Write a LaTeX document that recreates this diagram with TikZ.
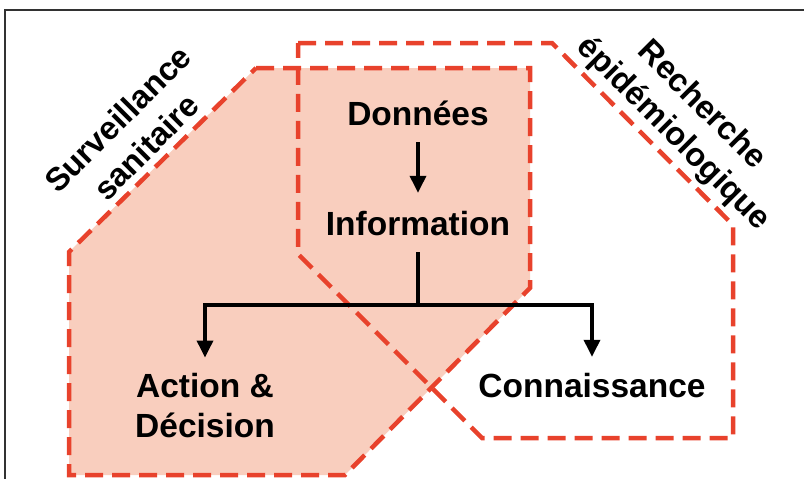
\documentclass[tikz,border=0pt]{standalone}
\usepackage{fontspec}
\setmainfont{Liberation Sans}
\usetikzlibrary{arrows.meta}
\definecolor{zonefill}{RGB}{249,206,190}
\definecolor{zonered}{RGB}{232,66,44}
\definecolor{framegray}{RGB}{50,50,50}
\tikzset{
  zone/.style={draw=zonered, line width=4.5pt, dash pattern=on 18pt off 9pt, line join=miter},
  lbl/.style={font=\fontsize{33.5}{40}\selectfont\bfseries, inner sep=0pt, text height=25pt, text depth=7pt, anchor=base},
  mlbl/.style={font=\fontsize{33.5}{40}\selectfont\bfseries, inner sep=0pt, align=center, anchor=base},
  rlbl/.style={font=\fontsize{32.5}{40}\selectfont\bfseries, inner sep=0pt, align=center},
  link/.style={line width=3.5pt},
  arr/.style={line width=3.5pt, -{Triangle[width=16pt,length=17pt]}}
}
\begin{document}
\begin{tikzpicture}[x=1pt,y=-1pt]
\useasboundingbox (0,0) rectangle (804,479);
% frame
\draw[framegray, line width=1.5pt] (5,479) -- (5,10) -- (804,10);
% surveillance zone fill
\fill[zonefill] (256,68) -- (530,68) -- (530,288) -- (345,475) -- (69,475) -- (69,252) -- cycle;
% recherche zone outline
\draw[zone] (298,43) -- (552,43) -- (733,225) -- (733,438) -- (482,438) -- (298,254) -- cycle;
% surveillance zone outline
\draw[zone] (256,68) -- (530,68) -- (530,288) -- (345,475) -- (69,475) -- (69,252) -- cycle;
% labels
\node[lbl] (don) at (418,125) {Données};
\node[lbl] (inf) at (418,235) {Information};
\node[mlbl] (act) at (205,437) {Action \&\\Décision};
\node[lbl] (con) at (592,397) {Connaissance};
\node[rlbl, rotate=45] (surv) at (132,133) {Surveillance\\sanitaire};
\node[rlbl, rotate=-45] (rech) at (687,120) {Recherche\\épidémiologique};
% connectors
\coordinate (split) at (418,305);
\draw[arr, shorten <=10pt, shorten >=17pt] (don.south) -- (inf.north);
\draw[link, shorten <=10pt] (inf.south) -- (split);
\draw[arr, shorten >=15pt] (split) -| (act.north);
\draw[arr, shorten >=15pt] (split) -| (con.north);
\end{tikzpicture}
\end{document}
